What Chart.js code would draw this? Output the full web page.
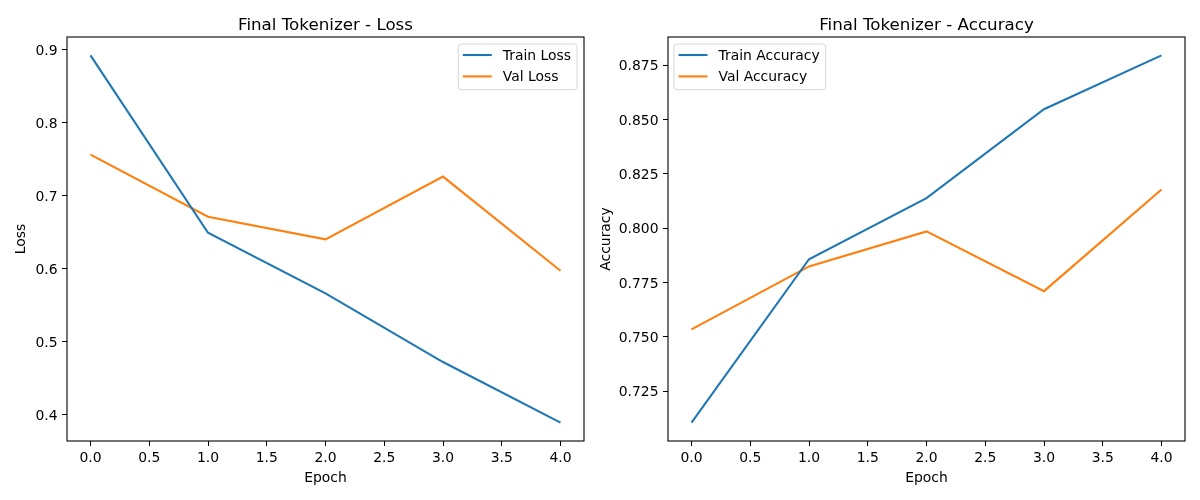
<!DOCTYPE html>
<html>
<head>
<meta charset="utf-8">
<script src="https://cdn.jsdelivr.net/npm/chart.js@4.4.0/dist/chart.umd.min.js"></script>
<style>
  body { margin: 0; background: #fff; }
  #wrap { position: relative; width: 1200px; height: 500px; }
  canvas { position: absolute; top: 0; }
</style>
</head>
<body>
<div id="wrap">
  <canvas id="lossChart" width="595" height="500" style="left:0"></canvas>
  <canvas id="accChart" width="605" height="500" style="left:595px"></canvas>
</div>
<script>
// data
const epochs = [0, 1, 2, 3, 4];
const trainLoss = [0.892, 0.649, 0.566, 0.472, 0.389];
const valLoss = [0.756, 0.671, 0.640, 0.726, 0.597];
const trainAcc = [0.7105, 0.7857, 0.8138, 0.8547, 0.8795];
const valAcc = [0.7534, 0.7824, 0.7985, 0.7710, 0.8178];

const xTicks = [0, 0.5, 1, 1.5, 2, 2.5, 3, 3.5, 4];
const lossTicks = [0.4, 0.5, 0.6, 0.7, 0.8, 0.9];
const accTicks = [0.725, 0.75, 0.775, 0.8, 0.825, 0.85, 0.875];

const BLUE = '#1f77b4';
const ORANGE = '#ff7f0e';
const FONT = 'DejaVu Sans';

Chart.defaults.color = '#000';
Chart.defaults.font.family = FONT;
Chart.defaults.font.size = 13.9;

function pts(ys) {
    return epochs.map((x, i) => ({ x: x, y: ys[i] }));
}

// matplotlib-like 5% margins
function limits(a, b) {
    const all = a.concat(b);
    const lo = Math.min(...all), hi = Math.max(...all);
    const m = (hi - lo) * 0.05;
    return [lo - m, hi + m];
}

// frame + title + legend box drawn the matplotlib way
const mplLook = {
    id: 'mplLook',
    afterDatasetsDraw(chart, args, opts) {
        const ctx = chart.ctx, a = chart.chartArea;
        ctx.save();
        ctx.strokeStyle = '#000';
        ctx.lineWidth = 1.1;
        ctx.strokeRect(a.left, a.top, a.right - a.left, a.bottom - a.top);

        // title
        ctx.fillStyle = '#000';
        ctx.font = '16.7px "' + FONT + '"';
        ctx.textAlign = 'center';
        ctx.textBaseline = 'alphabetic';
        ctx.fillText(opts.title, (a.left + a.right) / 2, a.top - 7);

        // legend
        ctx.font = '13.9px "' + FONT + '"';
        const sets = chart.data.datasets;
        const tw = Math.max(...sets.map(d => ctx.measureText(d.label).width));
        const w = 44.5 + tw + 6;
        const h = 45.7;
        const bx = opts.side === 'right' ? a.right - 7 - w : a.left + 6;
        const by = a.top + 7;
        ctx.beginPath();
        ctx.roundRect(bx, by, w, h, 3);
        ctx.fillStyle = 'rgba(255,255,255,0.8)';
        ctx.fill();
        ctx.strokeStyle = 'rgba(204,204,204,0.8)';
        ctx.lineWidth = 1;
        ctx.stroke();
        ctx.textAlign = 'left';
        ctx.textBaseline = 'middle';
        sets.forEach((d, i) => {
            const y = by + 11 + i * 21.4;
            ctx.strokeStyle = d.borderColor;
            ctx.lineWidth = 2.1;
            ctx.beginPath();
            ctx.moveTo(bx + 4.5, y);
            ctx.lineTo(bx + 33.5, y);
            ctx.stroke();
            ctx.fillStyle = '#000';
            ctx.fillText(d.label, bx + 44.5, y + 1);
        });
        ctx.restore();
    }
};

function makeChart(id, title, yLabel, series, labels, yTicks, decimals, cfg) {
    const lim = limits(series[0], series[1]);
    return new Chart(document.getElementById(id), {
        type: 'line',
        data: {
            datasets: [
                { label: labels[0], data: pts(series[0]), borderColor: BLUE, backgroundColor: BLUE,
                  borderWidth: 2.1, pointRadius: 0, tension: 0 },
                { label: labels[1], data: pts(series[1]), borderColor: ORANGE, backgroundColor: ORANGE,
                  borderWidth: 2.1, pointRadius: 0, tension: 0 }
            ]
        },
        options: {
            responsive: false,
            animation: false,
            layout: { padding: { top: 37, right: cfg.padRight, left: 0, bottom: 0 } },
            plugins: {
                legend: { display: false },
                tooltip: { enabled: false },
                mplLook: { title: title, side: cfg.legendSide }
            },
            scales: {
                x: {
                    type: 'linear',
                    min: -0.2,
                    max: 4.2,
                    afterBuildTicks: s => { s.ticks = xTicks.map(v => ({ value: v })); },
                    afterFit: s => { s.height = 59; },
                    ticks: { padding: 4, callback: v => v.toFixed(1), autoSkip: false, maxRotation: 0 },
                    grid: { drawOnChartArea: false, drawTicks: true, tickLength: 5, color: '#000', lineWidth: 1 },
                    border: { display: false },
                    title: { display: true, text: 'Epoch', padding: { top: 0, bottom: 13.5 } }
                },
                y: {
                    type: 'linear',
                    min: lim[0],
                    max: lim[1],
                    afterBuildTicks: s => { s.ticks = yTicks.map(v => ({ value: v })); },
                    afterFit: s => { s.width = cfg.yWidth; },
                    ticks: { padding: 4.5, labelOffset: 1.5, callback: v => v.toFixed(decimals), autoSkip: false },
                    grid: { drawOnChartArea: false, drawTicks: true, tickLength: 5, color: '#000', lineWidth: 1 },
                    border: { display: false },
                    title: { display: true, text: yLabel, padding: { top: cfg.yTitlePad, bottom: 0 } }
                }
            }
        },
        plugins: [mplLook]
    });
}

makeChart('lossChart', 'Final Tokenizer - Loss', 'Loss', [trainLoss, valLoss],
    ['Train Loss', 'Val Loss'], lossTicks, 1,
    { padRight: 11, yWidth: 67, yTitlePad: 13, legendSide: 'right' });

makeChart('accChart', 'Final Tokenizer - Accuracy', 'Accuracy', [trainAcc, valAcc],
    ['Train Accuracy', 'Val Accuracy'], accTicks, 3,
    { padRight: 15, yWidth: 73, yTitlePad: 3, legendSide: 'left' });
</script>
</body>
</html>
